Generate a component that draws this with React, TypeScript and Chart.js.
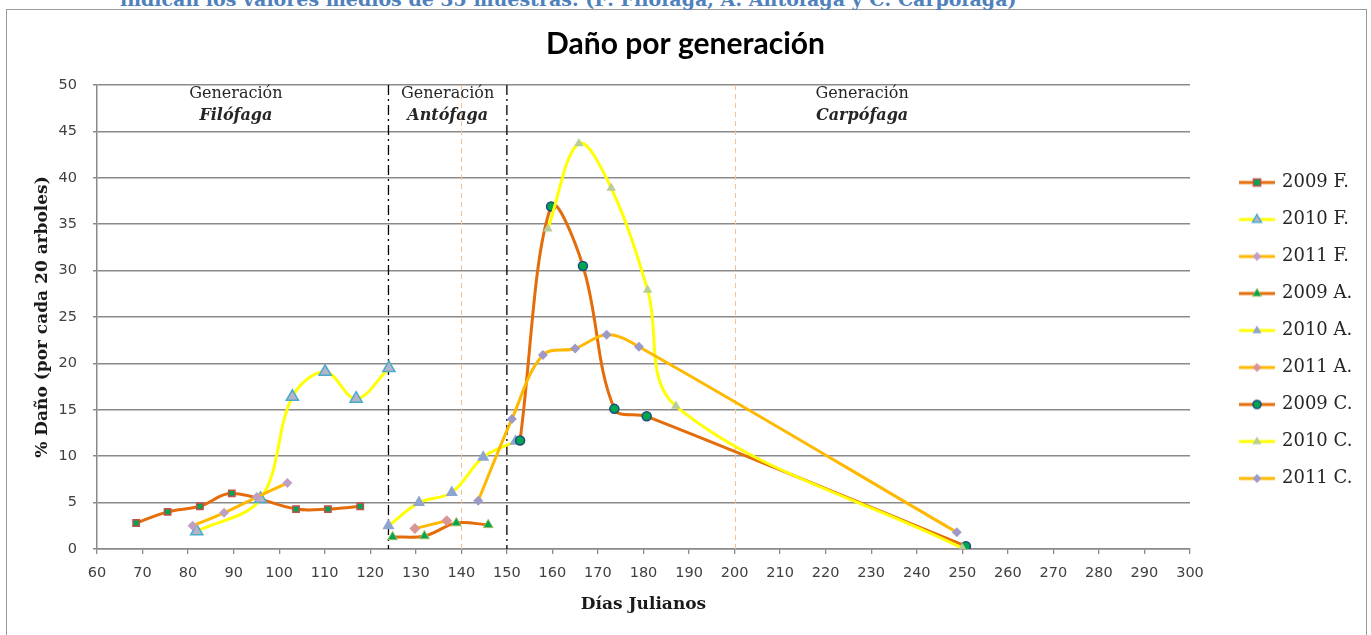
import React, { useEffect, useRef } from 'react';
import { Chart, registerables } from 'chart.js';

Chart.register(...registerables);

// ---------- data ----------
const seriesNames = ['2009 F.', '2010 F.', '2011 F.', '2009 A.', '2010 A.', '2011 A.', '2009 C.', '2010 C.', '2011 C.'];

const x2009F = [68.6, 75.5, 82.6, 89.6, 103.7, 110.7, 117.8];
const y2009F = [2.8, 4.0, 4.6, 6.0, 4.3, 4.3, 4.6];

const x2010F = [81.9, 95.9, 102.9, 110.1, 116.9, 124.1];
const y2010F = [1.9, 5.4, 16.4, 19.1, 16.2, 19.5];

const x2011F = [81.0, 87.9, 95.1, 101.8];
const y2011F = [2.5, 3.9, 5.6, 7.1];

const x2009A = [124.9, 131.9, 138.9, 145.9];
const y2009A = [1.3, 1.4, 2.8, 2.6];

const x2010A = [124.0, 130.7, 137.9, 144.8, 151.9];
const y2010A = [2.5, 5.0, 6.1, 9.9, 11.6];

const x2011A = [129.8, 136.8];
const y2011A = [2.2, 3.05];

const x2009C = [152.9, 159.7, 166.7, 173.6, 180.7, 250.8];
const y2009C = [11.7, 36.9, 30.5, 15.1, 14.3, 0.3];

const x2010C = [159.0, 165.8, 172.9, 180.9, 187.1, 250.0];
const y2010C = [34.5, 43.7, 38.9, 27.9, 15.4, 0.1];

const x2011C = [143.7, 151.1, 157.9, 165.0, 171.9, 179.0, 248.8];
const y2011C = [5.2, 14.0, 20.9, 21.6, 23.1, 21.8, 1.8];

const seriesX = [x2009F, x2010F, x2011F, x2009A, x2010A, x2011A, x2009C, x2010C, x2011C];
const seriesY = [y2009F, y2010F, y2011F, y2009A, y2010A, y2011A, y2009C, y2010C, y2011C];

const xMin = 60;
const xMax = 300;
const xStep = 10;
const yMin = 0;
const yMax = 50;
const yStep = 5;

const generationNames = ['Filófaga', 'Antófaga', 'Carpófaga'];
const generationWord = 'Generación';
const generationLabelDays = [90.5, 137, 228];
const generationBoundaryDays = [124, 150];
const referenceDays = [140, 200];

const chartTitle = 'Daño por generación';
const xTitle = 'Días Julianos';
const yTitle = '% Daño (por cada 20 arboles)';
const captionText = 'indican los valores medios de 35 muestras. (F: Filófaga, A: Antófaga y C: Carpófaga)';

// ---------- styles ----------
const C2009 = '#E46C0A';
const C2010 = '#FFFF00';
const C2011 = '#FFB800';

const styles = [
  { line: C2009, shape: 'rect', bg: '#00A650', border: '#C0504D', bw: 1.5, r: 4.5 },
  { line: C2010, shape: 'triangle', bg: '#B4B4CC', border: '#4BACC6', bw: 1.5, r: 7 },
  { line: C2011, shape: 'rectRot', bg: '#BFA0C4', border: '#BFA0C4', bw: 0, r: 5 },
  { line: C2009, shape: 'triangle', bg: '#00A650', border: '#9BBB59', bw: 1, r: 5.5 },
  { line: C2010, shape: 'triangle', bg: '#8EA4D2', border: '#8EA4D2', bw: 0, r: 7 },
  { line: C2011, shape: 'rectRot', bg: '#D99694', border: '#D99694', bw: 0, r: 5.5 },
  { line: C2009, shape: 'circle', bg: '#00A650', border: '#1F497D', bw: 1.5, r: 4.5 },
  { line: C2010, shape: 'triangle', bg: '#B9CD96', border: '#B9CD96', bw: 0, r: 5.5 },
  { line: C2011, shape: 'rectRot', bg: '#9E9AC8', border: '#9E9AC8', bw: 0, r: 5 },
];

function makeIcon(s: any): HTMLCanvasElement {
  const c = document.createElement('canvas');
  c.width = 72;
  c.height = 18;
  const ctx = c.getContext('2d')!;
  const cx = 52;
  const cy = 9;
  ctx.strokeStyle = s.line;
  ctx.lineWidth = 3;
  ctx.beginPath();
  ctx.moveTo(34, cy);
  ctx.lineTo(70, cy);
  ctx.stroke();
  const r = 4.5;
  ctx.fillStyle = s.bg;
  ctx.strokeStyle = s.border;
  ctx.lineWidth = s.bw;
  ctx.beginPath();
  if (s.shape === 'rect') {
    ctx.rect(cx - r * 0.8, cy - r * 0.8, r * 1.6, r * 1.6);
  } else if (s.shape === 'triangle') {
    ctx.moveTo(cx, cy - r * 1.1);
    ctx.lineTo(cx + r, cy + r * 0.6);
    ctx.lineTo(cx - r, cy + r * 0.6);
    ctx.closePath();
  } else if (s.shape === 'rectRot') {
    ctx.moveTo(cx, cy - r);
    ctx.lineTo(cx + r, cy);
    ctx.lineTo(cx, cy + r);
    ctx.lineTo(cx - r, cy);
    ctx.closePath();
  } else {
    ctx.arc(cx, cy, r * 0.9, 0, Math.PI * 2);
  }
  ctx.fill();
  if (s.bw > 0) ctx.stroke();
  return c;
}

const PLOT_LEFT = 97;
const PLOT_RIGHT = 1190;
const PLOT_BOTTOM = 549;
const W = 1371;
const H = 635;

const generationPlugin = {
  id: 'generations',
  beforeDatasetsDraw(chart: any) {
    const { ctx, chartArea, scales } = chart;
    const x = scales.x;
    ctx.save();
    ctx.strokeStyle = '#F9BE94';
    ctx.lineWidth = 1;
    ctx.setLineDash([5, 4]);
    referenceDays.forEach((d) => {
      const px = Math.round(x.getPixelForValue(d)) + 0.5;
      ctx.beginPath();
      ctx.moveTo(px, chartArea.top);
      ctx.lineTo(px, chartArea.bottom);
      ctx.stroke();
    });
    ctx.strokeStyle = '#000000';
    ctx.lineWidth = 1.3;
    ctx.setLineDash([10, 4, 2, 4]);
    generationBoundaryDays.forEach((d) => {
      const px = x.getPixelForValue(d);
      ctx.beginPath();
      ctx.moveTo(px, chartArea.top);
      ctx.lineTo(px, chartArea.bottom);
      ctx.stroke();
    });
    ctx.setLineDash([]);
    ctx.fillStyle = '#262626';
    ctx.textAlign = 'center';
    ctx.textBaseline = 'middle';
    generationLabelDays.forEach((d, i) => {
      const px = x.getPixelForValue(d);
      ctx.font = '16px "DejaVu Serif"';
      ctx.fillText(generationWord, px, chartArea.top + 9);
      ctx.font = 'italic bold 16px "DejaVu Serif"';
      ctx.fillText(generationNames[i], px, chartArea.top + 31);
    });
    ctx.restore();
  },
};

const legendWidthPlugin = {
  id: 'legendWidth',
  afterInit(chart: any) {
    const lg = chart.legend;
    if (!lg) return;
    const orig = lg.fit.bind(lg);
    lg.fit = () => {
      orig();
      lg.width = W - PLOT_RIGHT;
    };
  },
};

export default function App() {
  const ref = useRef<HTMLCanvasElement>(null);

  useEffect(() => {
    if (!ref.current) return;
    const icons = styles.map((s) => makeIcon(s));
    const datasets = seriesNames.map((name, i) => {
      const s = styles[i];
      return {
        label: name,
        data: seriesX[i].map((xv, j) => ({ x: xv, y: seriesY[i][j] })),
        borderColor: s.line,
        backgroundColor: s.bg,
        borderWidth: 3,
        tension: 0.36,
        pointStyle: s.shape,
        pointRadius: s.r,
        pointHoverRadius: s.r,
        pointBackgroundColor: s.bg,
        pointBorderColor: s.border,
        pointBorderWidth: s.bw,
        fill: false,
        order: 8 - i,
      };
    });

    const chart = new Chart(ref.current, {
      type: 'line',
      data: { datasets },
      plugins: [generationPlugin, legendWidthPlugin],
      options: {
        animation: false,
        responsive: false,
        devicePixelRatio: 1,
        layout: { padding: { left: 0, right: 0, top: 0, bottom: 0 } },
        plugins: {
          tooltip: { enabled: false },
          title: {
            display: true,
            text: chartTitle,
            color: '#000000',
            font: { family: 'Lato', weight: 'bold', size: 30, lineHeight: 1.2 },
            padding: { top: 26, bottom: 23 },
          },
          legend: {
            display: true,
            position: 'right',
            align: 'center',
            title: { display: true, text: ' ', font: { size: 10, lineHeight: 1 }, padding: 8 },
            labels: {
              usePointStyle: true,
              pointStyleWidth: 64,
              padding: 19,
              color: '#262626',
              font: { family: 'DejaVu Serif', size: 18 },
              generateLabels: (ch: any) =>
                ch.data.datasets.map((ds: any, i: number) => ({
                  text: ds.label,
                  pointStyle: icons[i],
                  fillStyle: 'transparent',
                  strokeStyle: 'transparent',
                  lineWidth: 0,
                  hidden: false,
                  datasetIndex: i,
                  fontColor: '#262626',
                })),
            },
          },
        },
        scales: {
          x: {
            type: 'linear',
            min: xMin,
            max: xMax,
            afterFit: (scale: any) => {
              scale.height = H - PLOT_BOTTOM;
            },
            ticks: {
              stepSize: xStep,
              color: '#404040',
              font: { family: 'DejaVu Sans', size: 14.5 },
              padding: 11,
              maxRotation: 0,
              autoSkip: false,
            },
            grid: {
              drawOnChartArea: false,
              drawTicks: true,
              tickLength: 5,
              color: '#8a8a8a',
              lineWidth: 1.3,
            },
            border: { display: true, color: '#8a8a8a', width: 1.5 },
            title: {
              display: true,
              text: xTitle,
              color: '#1a1a1a',
              font: { family: 'DejaVu Serif', weight: 'bold', size: 17, lineHeight: 1.2 },
              padding: { top: 0, bottom: 20 },
            },
          },
          y: {
            min: yMin,
            max: yMax,
            afterFit: (scale: any) => {
              scale.width = PLOT_LEFT;
            },
            ticks: {
              stepSize: yStep,
              color: '#404040',
              font: { family: 'DejaVu Sans', size: 14.5 },
              padding: 16,
            },
            grid: {
              drawTicks: true,
              tickLength: 4,
              color: '#8a8a8a',
              lineWidth: 1.5,
            },
            border: { display: true, color: '#8a8a8a', width: 1.5 },
            title: {
              display: true,
              text: yTitle,
              color: '#1a1a1a',
              font: { family: 'DejaVu Serif', weight: 'bold', size: 17, lineHeight: 1.2 },
              padding: { top: 32, bottom: 0 },
            },
          },
        },
      },
    } as any);

    return () => {
      chart.destroy();
    };
  }, []);

  return (
    <div style={{ position: 'fixed', left: 0, top: 0, width: W, height: H, overflow: 'hidden', background: '#ffffff' }}>
      <div
        style={{
          position: 'absolute',
          left: 6,
          top: 9,
          width: 1361,
          height: 660,
          border: '1px solid #9a9a9a',
          boxSizing: 'border-box',
        }}
      />
      <div
        style={{
          position: 'absolute',
          left: 120,
          top: -10,
          whiteSpace: 'nowrap',
          font: 'bold 19px "DejaVu Serif"',
          lineHeight: '19px',
          color: '#4F81BD',
        }}
      >
        {captionText}
      </div>
      <canvas ref={ref} width={W} height={H} style={{ position: 'absolute', left: 0, top: 0 }} />
    </div>
  );
}
